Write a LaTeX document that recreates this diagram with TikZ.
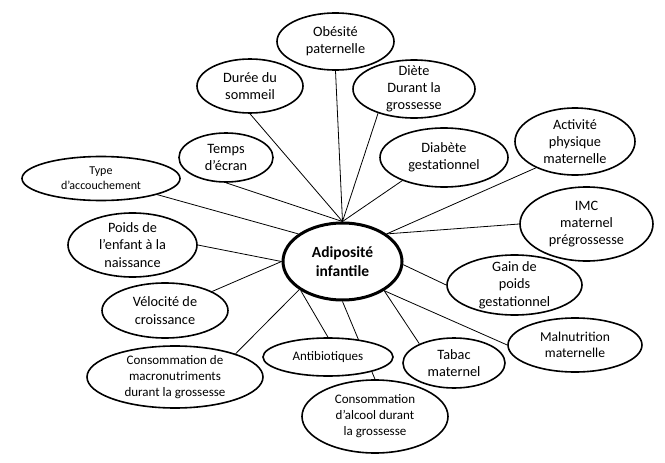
\documentclass[tikz,border=0pt]{standalone}
\usepackage{fontspec}
\setmainfont{Carlito}
\usetikzlibrary{shapes.geometric,backgrounds}
\begin{document}
\begin{tikzpicture}[x=1pt,y=-1pt,
  bub/.style={ellipse,draw,line width=1.6pt,fill=white,inner sep=0pt},
  txt/.style={align=center,font=\fontsize{14.3}{17.3}\selectfont},
  stxt/.style={align=center,font=\fontsize{13}{16}\selectfont},
  conn/.style={line width=0.8pt}]
\useasboundingbox (0,0) rectangle (665,463);
% central node
\node[bub,line width=3pt,minimum width=119pt,minimum height=77pt,
  label={[align=center,font=\fontsize{15.5}{18.5}\selectfont\bfseries]center:Adiposité\\infantile}] (c) at (342.5,261.5) {};
% outer nodes
\node[bub,minimum width=117pt,minimum height=57pt,label={[txt]center:Obésité\\paternelle}] (obe) at (335.5,41.5) {};
\node[bub,minimum width=106pt,minimum height=54pt,label={[txt]center:Durée du\\sommeil}] (dur) at (250,86) {};
\node[bub,minimum width=94pt,minimum height=49pt,label={[txt]center:Temps\\d’écran}] (tem) at (226,157.5) {};
\node[bub,minimum width=158pt,minimum height=44pt,label={[align=center,font=\fontsize{12}{15}\selectfont]center:Type\\d’accouchement}] (typ) at (101,178.5) {};
\node[bub,minimum width=122pt,minimum height=58pt,label={[txt]center:Diète\\Durant la\\grossesse}] (die) at (414,89) {};
\node[bub,minimum width=128pt,minimum height=59pt,label={[txt]center:Diabète\\gestationnel}] (dia) at (444,157.5) {};
\node[bub,minimum width=120pt,minimum height=67pt,label={[txt]center:Activité\\physique\\maternelle}] (act) at (575,141.5) {};
\node[bub,minimum width=133pt,minimum height=74pt,label={[txt]center:IMC\\maternel\\prégrossesse}] (imc) at (586.5,224) {};
\node[bub,minimum width=135pt,minimum height=60pt,label={[txt]center:Gain de\\poids\\gestationnel}] (gai) at (514.5,285) {};
\node[bub,minimum width=134pt,minimum height=54pt,label={[align=center,font=\fontsize{13.6}{16.5}\selectfont]center:Malnutrition\\maternelle}] (mal) at (575,345) {};
\node[bub,minimum width=102pt,minimum height=50pt,label={[txt]center:Tabac\\maternel}] (tab) at (454,363) {};
\node[bub,minimum width=146pt,minimum height=73pt,label={[stxt]center:Consommation\\d’alcool durant\\la grossesse}] (alc) at (375,416.5) {};
\node[bub,minimum width=130pt,minimum height=38pt,label={[stxt]center:Antibiotiques}] (ant) at (328,357) {};
\node[bub,minimum width=176pt,minimum height=62pt,label={[stxt]center:Consommation de\\macronutriments\\durant la grossesse}] (mac) at (175,377) {};
\node[bub,minimum width=126pt,minimum height=55pt,label={[txt]center:Vélocité de\\croissance}] (vel) at (165,310.5) {};
\node[bub,minimum width=129pt,minimum height=64pt,label={[txt]center:Poids de\\l’enfant à la\\naissance}] (poi) at (132.5,245) {};
% connectors
\begin{scope}[on background layer]
\fill[white] (0,0) rectangle (665,463);
\draw[conn] (obe.south) -- (c.north);
\draw[conn] (dur.south) -- (c.north);
\draw[conn] (tem.south) -- (c.north);
\draw[conn] (die.214) -- (c.north);
\draw[conn] (dia.209) -- (c.north);
\draw[conn] (typ.-16) -- (c.148);
\draw[conn] (act.214) -- (c.32);
\draw[conn] (imc.west) -- (c.32);
\draw[conn] (gai.west) -- (c.-3);
\draw[conn] (mal.west) -- (c.325);
\draw[conn] (tab.151) -- (c.325);
\draw[conn] (alc.north) -- (c.south);
\draw[conn] (ant.north) -- (c.215);
\draw[conn] (mac.21) -- (c.213);
\draw[conn] (vel.22) -- (c.west);
\draw[conn] (poi.east) -- (c.west);
\end{scope}
\end{tikzpicture}
\end{document}
